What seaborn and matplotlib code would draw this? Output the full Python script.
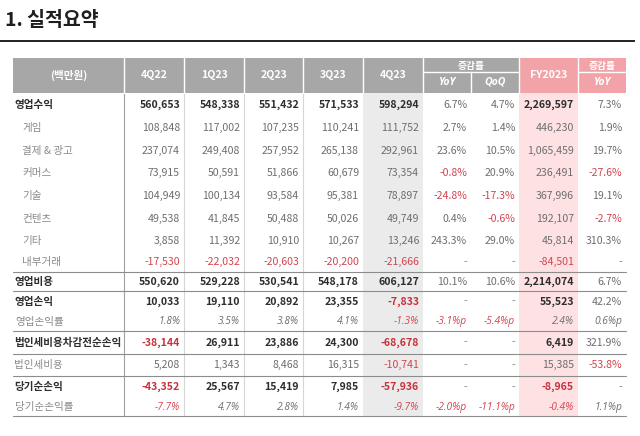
import matplotlib
matplotlib.use("Agg")
import matplotlib.pyplot as plt
from matplotlib.patches import Rectangle
import seaborn as sns

sns.set_theme(style="white")
plt.rcParams['font.family'] = ['Noto Sans CJK KR', 'DejaVu Sans']

# ---------------- data ----------------
title = "1. 실적요약"
unit_label = "(백만원)"
quarters = ["4Q22", "1Q23", "2Q23", "3Q23", "4Q23"]
labels = ["영업수익", "게임", "결제 & 광고", "커머스", "기술", "컨텐츠", "기타", "내부거래",
          "영업비용", "영업손익", "영업손익률", "법인세비용차감전순손익", "법인세비용",
          "당기순손익", "당기순손익률"]
row_kind = ["bold", "sub", "sub", "sub", "sub", "sub", "sub", "sub",
            "bold", "bold", "italic", "bold", "plain", "bold", "italic"]

q4_22 = [560653, 108848, 237074, 73915, 104949, 49538, 3858, -17530, 550620, 10033, 1.8, -38144, 5208, -43352, -7.7]
q1_23 = [548338, 117002, 249408, 50591, 100134, 41845, 11392, -22032, 529228, 19110, 3.5, 26911, 1343, 25567, 4.7]
q2_23 = [551432, 107235, 257952, 51866, 93584, 50488, 10910, -20603, 530541, 20892, 3.8, 23886, 8468, 15419, 2.8]
q3_23 = [571533, 110241, 265138, 60679, 95381, 50026, 10267, -20200, 548178, 23355, 4.1, 24300, 16315, 7985, 1.4]
q4_23 = [598294, 111752, 292961, 73354, 78897, 49749, 13246, -21666, 606127, -7833, -1.3, -68678, -10741, -57936, -9.7]
yoy = [6.7, 2.7, 23.6, -0.8, -24.8, 0.4, 243.3, None, 10.1, None, -3.1, None, None, None, -2.0]
qoq = [4.7, 1.4, 10.5, 20.9, -17.3, -0.6, 29.0, None, 10.6, None, -5.4, None, None, None, -11.1]
fy2023 = [2269597, 446230, 1065459, 236491, 367996, 192107, 45814, -84501, 2214074, 55523, 2.4, 6419, 15385, -8965, -0.4]
fy_yoy = [7.3, 1.9, 19.7, -27.6, 19.1, -2.7, 310.3, None, 6.7, 42.2, 0.6, 321.9, -53.8, None, 1.1]

# ---------------- layout (pixels) ----------------
col_edges = [13, 124, 184, 244, 303, 363, 423, 471, 519, 578, 626]
row_edges = [93, 116, 139, 162, 184, 207, 230, 252, 272, 291, 312, 331, 354, 376, 398, 416]
head_top, head_mid = 58, 72

GRAY_HEAD = "#a7a7a7"
PINK_HEAD = "#f2a3a8"
GRAY_BODY = "#ebebeb"
PINK_BODY = "#fde1e3"
RED = "#d2454f"
RED_BOLD = "#c8323c"
DARK = "#2e2e2e"
MID = "#6e6e6e"
LIGHT = "#8a8a8a"
FS = 7.6
ITALIC_FAMILY = ['Open Sans', 'Noto Sans CJK KR', 'DejaVu Sans']

fig = plt.figure(figsize=(6.4, 4.36), dpi=100)
ax = fig.add_axes([0, 0, 1, 1])
ax.set_xlim(0, 640)
ax.set_ylim(436, 0)
ax.axis("off")

# title & rule
ax.text(5, 20, title, ha="left", va="center", fontsize=14, fontweight="bold", color="#1e1e1e")
ax.plot([0, 635], [41, 41], color="#222222", lw=1.4, solid_capstyle="butt")

body_top, body_bot = row_edges[0], row_edges[-1]

def band(x0, x1, y0, y1, c):
    ax.add_patch(Rectangle((x0, y0), x1 - x0, y1 - y0, facecolor=c, edgecolor="none", zorder=0))

band(col_edges[5], col_edges[6], body_top, body_bot, GRAY_BODY)
band(col_edges[8], col_edges[9], body_top, body_bot, PINK_BODY)

# header
band(col_edges[0], col_edges[8], head_top, body_top, GRAY_HEAD)
band(col_edges[8], col_edges[10], head_top, body_top, PINK_HEAD)
for x in col_edges[1:-1]:
    y0 = head_mid if x == col_edges[7] else head_top
    ax.plot([x, x], [y0, body_top], color="white", lw=1, zorder=2)
ax.plot([col_edges[6], col_edges[8]], [head_mid, head_mid], color="white", lw=1, zorder=2)
ax.plot([col_edges[9], col_edges[10]], [head_mid, head_mid], color="white", lw=1, zorder=2)

hc = (head_top + body_top) / 2
hk = dict(ha="center", va="center", color="white", fontweight="bold", fontsize=FS, zorder=3)
ax.text((col_edges[0] + col_edges[1]) / 2, hc, unit_label, **hk)
for i, q in enumerate(quarters):
    ax.text((col_edges[i + 1] + col_edges[i + 2]) / 2, hc, q, **hk)
ax.text((col_edges[8] + col_edges[9]) / 2, hc, "FY2023", **hk)
top_c = (head_top + head_mid) / 2
bot_c = (head_mid + body_top) / 2
hs = {**hk, "fontsize": 7}
ax.text((col_edges[6] + col_edges[8]) / 2, top_c + 0.5, "증감률", **hs)
ax.text((col_edges[9] + col_edges[10]) / 2, top_c + 0.5, "증감률", **hs)
ax.text((col_edges[6] + col_edges[7]) / 2, bot_c, "YoY", style="italic", family=ITALIC_FAMILY, **hk)
ax.text((col_edges[7] + col_edges[8]) / 2, bot_c, "QoQ", style="italic", family=ITALIC_FAMILY, **hk)
ax.text((col_edges[9] + col_edges[10]) / 2, bot_c, "YoY", style="italic", family=ITALIC_FAMILY, **hk)

# grid lines
ax.plot([col_edges[1]] * 2, [body_top, body_bot], color="#a0a0a0", lw=0.8, zorder=1)
for x in col_edges[2:5]:
    ax.plot([x, x], [body_top, body_bot], color="#d6d6d6", lw=0.8, zorder=1)
for y in [row_edges[8], row_edges[9], row_edges[11], row_edges[12], row_edges[13], row_edges[15]]:
    ax.plot([col_edges[0], col_edges[-1]], [y, y], color="#8c8c8c", lw=0.8, zorder=1)

# body text
columns = [q4_22, q1_23, q2_23, q3_23, q4_23, yoy, qoq, fy2023, fy_yoy]
pct_cols = {5, 6, 8}

def fmt(v, ci, kind):
    if v is None:
        return "-"
    if kind == "italic":
        return f"{v:.1f}%p" if ci in pct_cols else f"{v:.1f}%"
    if ci in pct_cols:
        return f"{v:.1f}%"
    return f"{int(v):,}"

for r, (lab, kind) in enumerate(zip(labels, row_kind)):
    yc = (row_edges[r] + row_edges[r + 1]) / 2
    if kind == "bold":
        ax.text(14, yc, lab, ha="left", va="center", fontsize=FS, fontweight="bold", color=DARK)
    elif kind == "sub":
        ax.text(22, yc, lab, ha="left", va="center", fontsize=FS, color=LIGHT)
    elif kind == "italic":
        ax.text(15, yc, lab, ha="left", va="center", fontsize=FS, style="italic", color=LIGHT)
    else:
        ax.text(14, yc, lab, ha="left", va="center", fontsize=FS, color=LIGHT)
    for ci, col in enumerate(columns):
        v = col[r]
        s = fmt(v, ci, kind)
        neg = v is not None and v < 0
        kw = dict(ha="right", va="center", fontsize=FS, zorder=3)
        if kind == "bold" and v is not None and ci not in pct_cols:
            kw.update(fontweight="bold", color=RED_BOLD if neg else DARK)
        else:
            kw.update(color=RED if neg else (LIGHT if v is None else MID))
        if kind == "italic":
            kw.update(style="italic", family=ITALIC_FAMILY, fontsize=FS - 0.2)
        ax.text(col_edges[ci + 2] - 4, yc, s, **kw)

fig.savefig("out.png", dpi=100)
